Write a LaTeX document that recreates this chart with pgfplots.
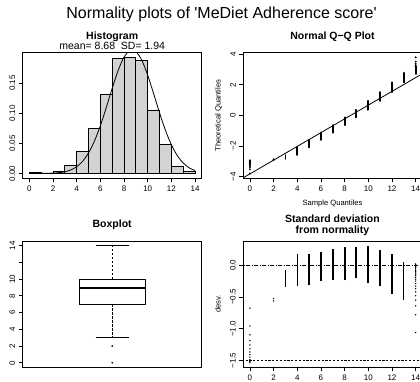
\documentclass[border=0pt]{standalone}
\usepackage{fontspec}
\setmainfont{Liberation Sans}
\usepackage{pgfplots}
\pgfplotsset{compat=1.18}
\definecolor{histgray}{RGB}{211,211,211}
\pgfplotsset{
  rpanel/.style={
    scale only axis, width=179pt,
    axis line style={line width=0.8pt},
    every tick/.style={black, line width=0.8pt},
    tick align=outside, major tick length=4pt,
    tick pos=left,
    tick label style={font=\fontsize{8}{9}\selectfont},
    yticklabel style={rotate=90, anchor=south},
    anchor=south west,
  }
}
\begin{document}
\begin{tikzpicture}
\useasboundingbox (0pt,0pt) rectangle (420pt,382pt);

% ---------- Histogram ----------
\begin{axis}[rpanel, at={(22.7pt,203.8pt)}, height=125.5pt,
  xmin=-0.56, xmax=14.56, ymin=-0.0079, ymax=0.2005,
  xtick={0,2,...,14}, xticklabels={0,2,4,6,8,10,12,14},
  ytick={0,0.05,0.1,0.15}, yticklabels={0.00,0.05,0.10,0.15}]
\addplot[ybar interval, fill=histgray, draw=black, line width=0.8pt] coordinates {
(0,0.0017) (1,0.0005) (2,0.0027) (3,0.0138) (4,0.037) (5,0.0745) (6,0.1318)
(7,0.1914) (8,0.193) (9,0.187) (10,0.1054) (11,0.048) (12,0.0121) (13,0.0033) (14,0.0033)};
\addplot[black, line width=0.8pt, smooth] coordinates {
(0,0.00001) (1,0.00008) (2,0.00055) (2.5,0.00129) (3,0.00283) (3.5,0.00582) (4,0.0112)
(4.5,0.02019) (5,0.03402) (5.5,0.05368) (6,0.07921) (6.5,0.10938) (7,0.14134)
(7.5,0.17091) (8,0.19339) (8.5,0.20476) (8.68,0.20564) (9,0.20286) (9.5,0.18807)
(10,0.16314) (10.5,0.13244) (11,0.10058) (11.5,0.0715) (12,0.04754) (12.5,0.02959)
(13,0.01723) (13.5,0.00939) (14,0.00479)};
\end{axis}

% ---------- Normal Q-Q ----------
\begin{axis}[rpanel, at={(243.3pt,203.8pt)}, height=125.5pt,
  xmin=-0.56, xmax=14.56, ymin=-4.104, ymax=4.104,
  xtick={0,2,...,14}, xticklabels={0,2,4,6,8,10,12,14},
  ytick={-4,-2,0,2,4}, yticklabels={−4,−2,0,2,4},
  unbounded coords=jump]
\addplot[black, line width=2pt, line cap=round] coordinates {
(4,-2.583) (4,-2.082) (4,nan)
(5,-2.082) (5,-1.593) (5,nan)
(6,-1.593) (6,-1.127) (6,nan)
(7,-1.127) (7,-0.639) (7,nan)
(8,-0.639) (8,-0.120) (8,nan)
(9,-0.120) (9,0.372) (9,nan)
(10,0.372) (10,0.960) (10,nan)
(11,0.960) (11,1.528) (11,nan)
(12,1.528) (12,2.161) (12,nan)
(13,2.161) (13,2.78) (13,nan)
(14,2.72) (14,3.20)};
\addplot[black, line width=1.2pt, line cap=round] coordinates {(3,-2.85) (3,-2.583)};
\addplot[black, only marks, mark=*, mark size=0.75pt] coordinates {
(0,-3.80) (0,-3.52) (0,-3.38) (0,-3.29) (0,-3.22) (0,-3.16) (0,-3.11) (0,-3.07)
(0,-3.03) (0,-2.99) (0,-2.96) (0,-2.94)
(2,-2.91) (2,-2.87)
(14,3.22) (14,3.29) (14,3.38) (14,3.52) (14,3.80)};
\addplot[black, line width=0.8pt] coordinates {(-1,-4.2717) (15,2.9235)};
\end{axis}

% ---------- Boxplot ----------
\begin{axis}[rpanel, at={(22.7pt,14.5pt)}, height=126.5pt,
  xmin=0.46, xmax=1.54, ymin=-0.56, ymax=14.56,
  xtick=\empty,
  ytick={0,2,...,14}, yticklabels={0,2,4,6,8,10,,14}]
\addplot[black, line width=0.8pt] coordinates {(0.8,7) (1.2,7) (1.2,10) (0.8,10) (0.8,7)};
\addplot[black, line width=2pt] coordinates {(0.8,9) (1.2,9)};
\addplot[black, line width=0.8pt, dash pattern=on 2.5pt off 1.5pt] coordinates {(1,10) (1,14)};
\addplot[black, line width=0.8pt, dash pattern=on 2.5pt off 1.5pt] coordinates {(1,7) (1,3)};
\addplot[black, line width=0.8pt] coordinates {(0.9,14) (1.1,14)};
\addplot[black, line width=0.8pt] coordinates {(0.9,3) (1.1,3)};
\addplot[black, only marks, mark=*, mark size=0.6pt] coordinates {(1,2) (1,0)};
\end{axis}

% ---------- Deviation ----------
\begin{axis}[rpanel, at={(243.3pt,14.5pt)}, height=126.5pt,
  xmin=-0.56, xmax=14.56, ymin=-1.608, ymax=0.383,
  xtick={0,2,...,14}, xticklabels={0,2,4,6,8,10,12,14},
  ytick={-1.5,-1,-0.5,0}, yticklabels={−1.5,−1.0,−0.5,0.0},
  unbounded coords=jump]
\addplot[black, line width=2pt] coordinates {
(5,-0.304) (5,0.185) (5,nan)
(6,-0.254) (6,0.212) (6,nan)
(7,-0.227) (7,0.261) (7,nan)
(8,-0.231) (8,0.289) (8,nan)
(9,-0.207) (9,0.285) (9,nan)
(10,-0.280) (10,0.309) (10,nan)
(11,-0.332) (11,0.236)};
\addplot[black, line width=1.4pt] coordinates {(4,-0.330) (4,0.171) (4,nan) (12,-0.450) (12,0.183)};
\addplot[black, line width=0.9pt] coordinates {(3,-0.345) (3,-0.078) (3,nan) (13,-0.55) (13,0.06)};
\addplot[black, only marks, mark=*, mark size=0.45pt] coordinates {
(0,-0.674) (0,-0.954) (0,-1.094) (0,-1.184) (0,-1.254) (0,-1.314) (0,-1.364)
(0,-1.404) (0,-1.444) (0,-1.484) (0,-1.514) (0,-1.534)
(2,-0.52) (2,-0.56)
(14,0.022) (14,0.012) (14,-0.008) (14,-0.018) (14,-0.038) (14,-0.058) (14,-0.078)
(14,-0.098) (14,-0.118) (14,-0.138) (14,-0.158) (14,-0.188) (14,-0.218) (14,-0.248)
(14,-0.288) (14,-0.328) (14,-0.368) (14,-0.418) (14,-0.478) (14,-0.548) (14,-0.638)
(14,-0.778) (14,-1.058)};
\addplot[black, line width=0.8pt, dash pattern=on 4pt off 1.5pt on 1pt off 1.5pt] coordinates {(-1,0) (15,0)};
\addplot[black, line width=0.8pt, dash pattern=on 2.2pt off 1.6pt] coordinates {(-1,-1.5) (15,-1.5)};
\end{axis}

% ---------- Texts ----------
\node[anchor=base, font=\fontsize{16}{19}\selectfont] at (221.5pt,363.7pt) {Normality plots of \textquotesingle MeDiet Adherence score\textquotesingle};
\node[anchor=base, font=\bfseries\fontsize{10.5}{12}\selectfont] at (112.2pt,342.5pt) {Histogram};
\node[anchor=base, font=\fontsize{10.5}{12}\selectfont] at (112.2pt,332.7pt) {mean= 8.68\ \ SD= 1.94};
\node[anchor=base, font=\bfseries\fontsize{10.5}{12}\selectfont] at (332.5pt,342.5pt) {Normal Q−Q Plot};
\node[anchor=base, font=\bfseries\fontsize{10.5}{12}\selectfont] at (112.2pt,154pt) {Boxplot};
\node[anchor=base, font=\bfseries\fontsize{10.5}{12}\selectfont] at (332.5pt,159.5pt) {Standard deviation};
\node[anchor=base, font=\bfseries\fontsize{10.5}{12}\selectfont] at (332.5pt,148pt) {from normality};
\node[anchor=base, font=\fontsize{7.6}{9}\selectfont] at (332.5pt,176pt) {Sample Quantiles};
\node[anchor=base, rotate=90, font=\fontsize{7.6}{9}\selectfont] at (220.5pt,266.5pt) {Theoretical Quantiles};
\node[anchor=base, rotate=90, font=\fontsize{7.6}{9}\selectfont] at (220.5pt,77.8pt) {desv.};
\end{tikzpicture}
\end{document}
